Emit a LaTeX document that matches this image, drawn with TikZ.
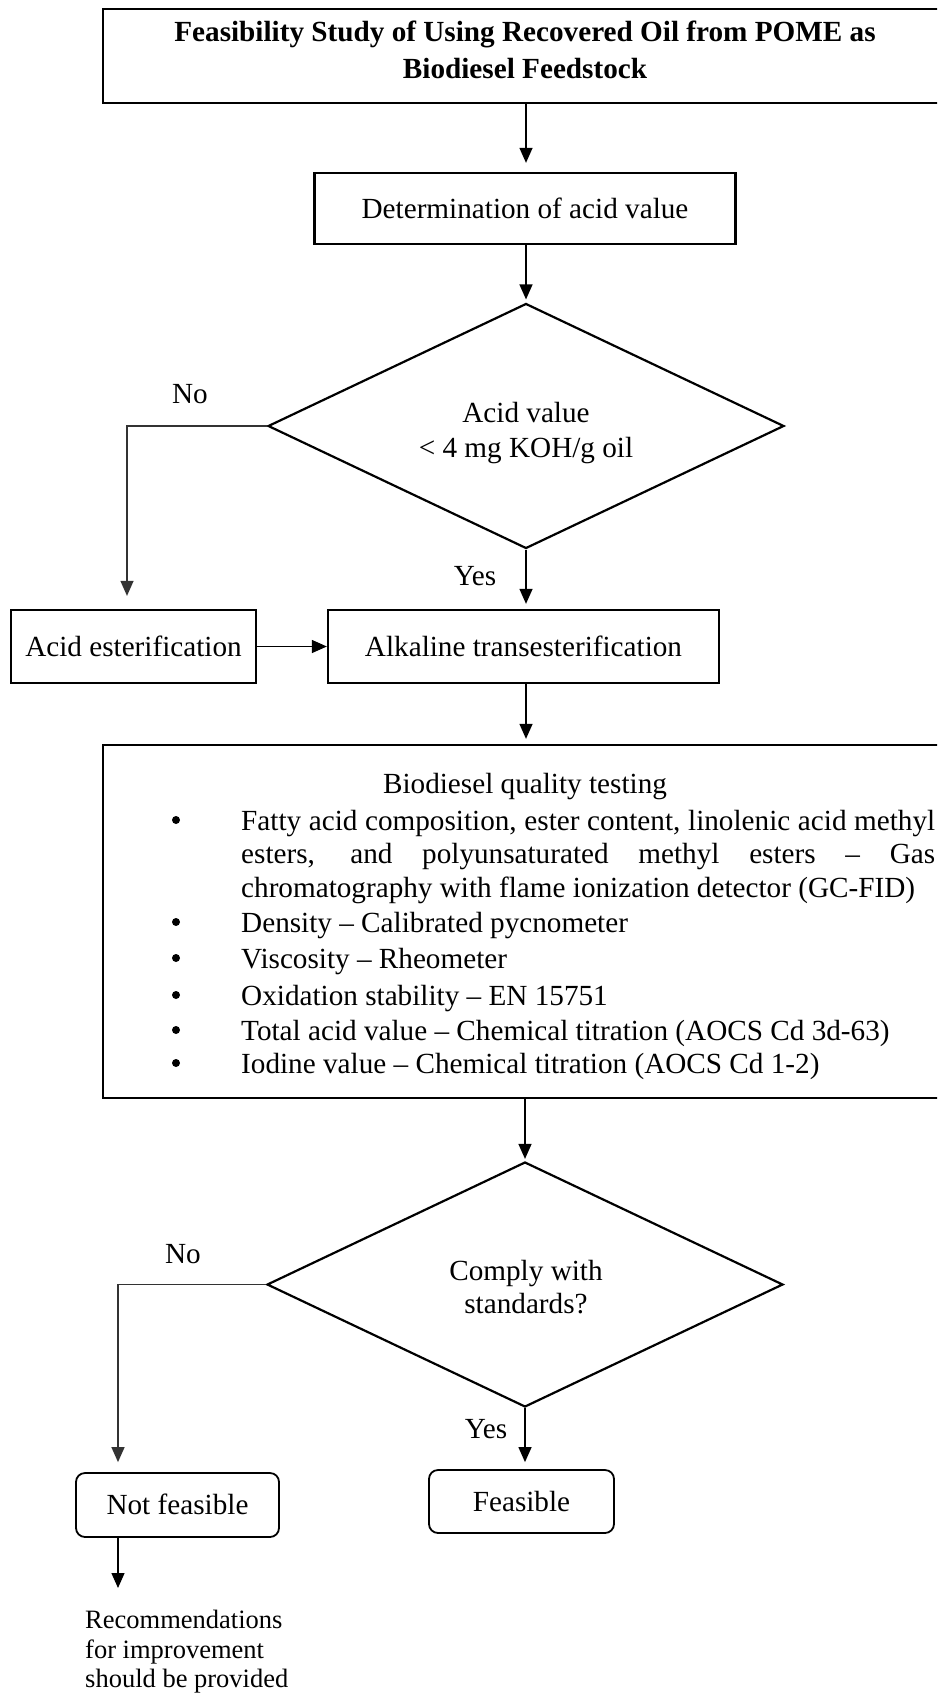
\documentclass[tikz,border=0pt]{standalone}
\usepackage{fontspec}
\setmainfont{Liberation Serif}
\usetikzlibrary{arrows.meta,shapes.geometric}

\tikzset{
  txt/.style={font=\fontsize{29.2}{35}\selectfont, inner sep=0pt},
  lbl/.style={txt, anchor=base},
  line/.style={lbl, anchor=base west},
  heading/.style={lbl, font=\fontsize{29.2}{35}\selectfont\bfseries},
  small/.style={anchor=base west, inner sep=0pt, font=\fontsize{26.5}{30}\selectfont},
  frame/.style={draw, line width=2.3pt, inner sep=0pt},
  boxed/.style={draw, line width=2.3pt, txt, text height=19pt, text depth=0pt},
  endbox/.style={boxed, rounded corners=9pt, line width=1.8pt},
  decision/.style={draw, diamond, line width=2.2pt, inner sep=0pt,
    minimum width=516pt, minimum height=245pt},
  dot/.style={circle, fill, inner sep=0pt, minimum size=8pt},
  flow/.style={line width=1.3pt, -{Triangle[length=15pt,width=13pt]}},
  branch/.style={flow, draw=black!80},
}

\begin{document}
\begin{tikzpicture}[x=1pt,y=-1pt]
\useasboundingbox (0,0) rectangle (937,1694);
\fill[white] (0,0) rectangle (937,1694);
\clip (0,0) rectangle (937,1694);

% title block
\node[frame, minimum width=844pt, minimum height=94pt] (title) at (525,56) {};
\node[heading] (title1) at (525,42) {Feasibility Study of Using Recovered Oil from POME as};
\node[heading] (title2) at (525,78) {Biodiesel Feedstock};

% acid value check
\node[boxed, minimum width=421pt, minimum height=71pt] (det) at (525,208.5) {Determination of acid value};
\node[decision] (d1) at (526,426) {};
\node[lbl] (d1a) at (526,422) {Acid value};
\node[lbl] (d1b) at (526,457) {< 4 mg KOH/g oil};
\node[lbl] (no1) at (190,403) {No};
\node[lbl] (yes1) at (475,585) {Yes};

% conversion steps
\node[boxed, minimum width=245pt, minimum height=73pt] (acid) at (133.5,646.5) {Acid esterification};
\node[boxed, minimum width=391pt, minimum height=73pt] (alk) at (523.5,646.5) {Alkaline transesterification};

% quality testing
\node[frame, minimum width=844pt, minimum height=353pt] (qual) at (525,921.5) {};
\node[lbl] (qhead) at (525,793) {Biodiesel quality testing};
\node[line] (q1) at (241,830) {\makebox[694pt][s]{Fatty acid composition, ester content, linolenic acid methyl}};
\node[line] (q2) at (241,863) {\makebox[694pt][s]{esters, and polyunsaturated methyl esters – Gas}};
\node[line] (q3) at (241,897) {chromatography with flame ionization detector (GC-FID)};
\node[line] (q4) at (241,932) {Density – Calibrated pycnometer};
\node[line] (q5) at (241,968) {Viscosity – Rheometer};
\node[line] (q6) at (241,1005) {Oxidation stability – EN 15751};
\node[line] (q7) at (241,1040) {Total acid value – Chemical titration (AOCS Cd 3d-63)};
\node[line] (q8) at (241,1073) {Iodine value – Chemical titration (AOCS Cd 1-2)};
\foreach \y/\n in {830/1,932/4,968/5,1005/6,1040/7,1073/8}
  \node[dot] (b\n) at (176,\y-10) {};

% compliance check
\node[decision] (d2) at (525,1284.5) {};
\node[lbl] (d2a) at (526,1280) {Comply with};
\node[lbl] (d2b) at (526,1313) {standards?};
\node[lbl] (no2) at (183,1263) {No};
\node[lbl] (yes2) at (486,1438) {Yes};

% outcomes
\node[endbox, minimum width=185pt, minimum height=63pt] (feas) at (521.5,1501.5) {Feasible};
\node[endbox, minimum width=203pt, minimum height=64pt] (nf) at (177.5,1505) {Not feasible};
\node[small] (rec1) at (85,1628) {Recommendations};
\node[small] (rec2) at (85,1658) {for improvement};
\node[small] (rec3) at (85,1687) {should be provided};

% connectors
\coordinate (kx1) at (127,0);
\coordinate (kx2) at (118,0);
\coordinate (recTip) at (118,1588);

\draw[flow, shorten >=9pt] (title.south -| d1.north) -- (d1.north |- det.north);
\draw[flow, shorten >=3pt] (det.south -| d1.north) -- (d1.north);
\draw[branch, shorten >=13pt] (d1.west) -| (kx1 |- acid.north);
\draw[flow, shorten >=5pt] (d1.south) -- (d1.south |- alk.north);
\draw[flow] (acid.east) -- (alk.west);
\draw[flow, shorten >=5pt] (alk.south -| d1.south) -- (qual.north -| d1.south);
\draw[flow, shorten >=2pt] (qual.south -| d2.north) -- (d2.north);
\draw[branch, shorten >=10pt] (d2.west) -| (kx2 |- nf.north);
\draw[flow, shorten >=7pt] (d2.south) -- (d2.south |- feas.north);
\draw[flow] (nf.south -| recTip) -- (recTip);
\end{tikzpicture}
\end{document}
